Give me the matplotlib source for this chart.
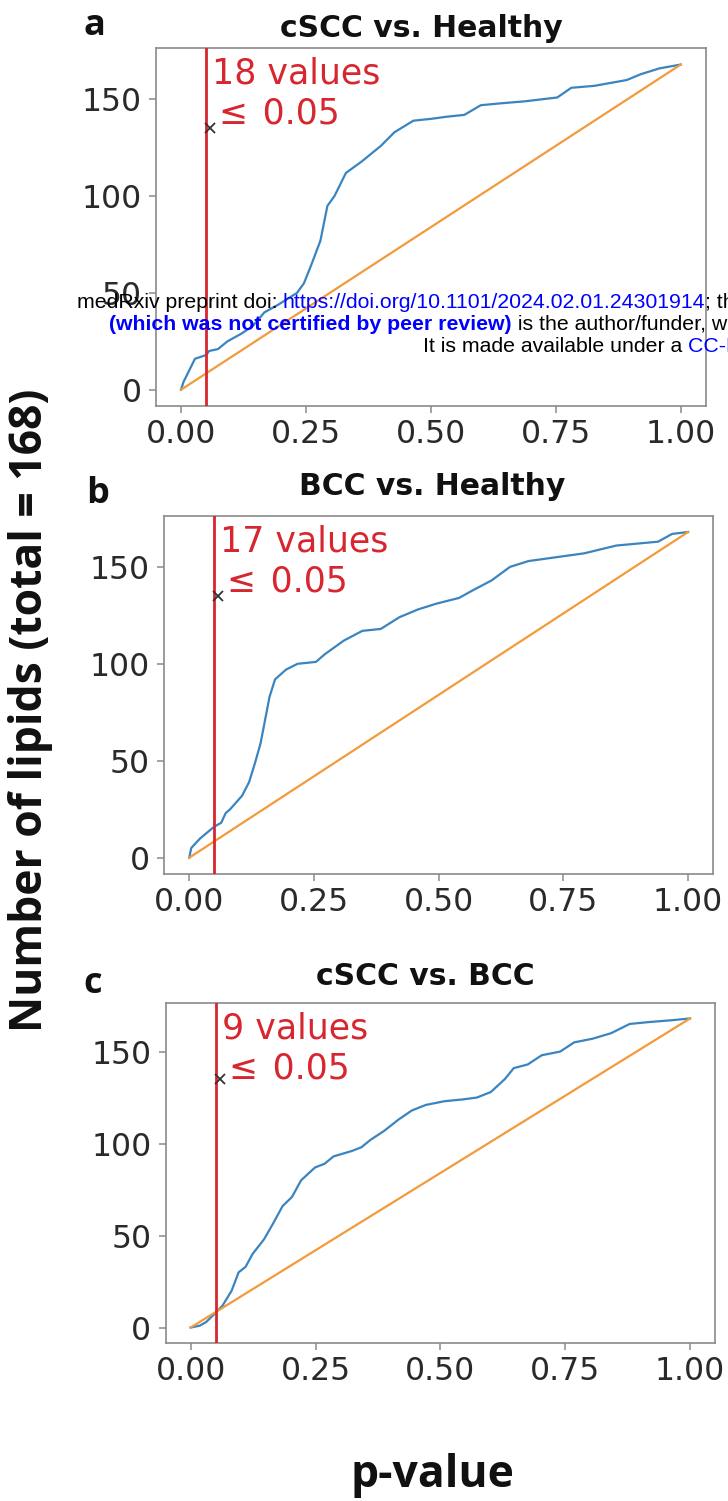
import matplotlib
matplotlib.use("Agg")
import matplotlib.pyplot as plt

plt.rcParams['font.family'] = ['DejaVu Sans']

# ---------------- data ----------------
titles = ["cSCC vs. Healthy", "BCC vs. Healthy", "cSCC vs. BCC"]
panel_letters = ["a", "b", "c"]
n_significant = [18, 17, 9]
threshold = 0.05
total_lipids = 168
x_ticks = [0.0, 0.25, 0.50, 0.75, 1.0]
x_tick_labels = ["0.00", "0.25", "0.50", "0.75", "1.00"]
y_ticks = [0, 50, 100, 150]

diag_x = [0.0, 1.0]
diag_y = [0, 168]

a_p = [0, .005, .028, .051, .056, .074, .093, .121, .144, .167, .195, .232, .246, .26,
       .279, .293, .307, .33, .362, .381, .40, .427, .465, .502, .53, .567, .60, .641,
       .688, .753, .781, .827, .892, .92, .957, 1.0]
a_n = [0, 4, 16, 18, 20, 21, 25, 29, 33, 40, 44, 50, 55, 64, 77, 95, 100, 112, 118, 122,
       126, 133, 139, 140, 141, 142, 147, 148, 149, 151, 156, 157, 160, 163, 166, 168]

b_p = [0, .004, .022, .036, .05, .064, .073, .082, .106, .12, .132, .143, .152, .161,
       .172, .194, .217, .254, .272, .31, .347, .384, .421, .458, .495, .541, .569, .606,
       .643, .68, .736, .792, .856, .94, .968, 1.0]
b_n = [0, 5, 10, 13, 16, 18, 23, 25, 32, 39, 49, 59, 71, 83, 92, 97, 100, 101, 105, 112,
       117, 118, 124, 128, 131, 134, 138, 143, 150, 153, 155, 157, 161, 163, 167, 168]

c_p = [0, .018, .031, .05, .064, .082, .096, .11, .124, .147, .166, .184, .203, .221,
       .249, .268, .286, .323, .342, .36, .388, .416, .443, .471, .508, .545, .573, .601,
       .629, .647, .675, .703, .74, .768, .805, .842, .879, .916, .962, 1.0]
c_n = [0, 1, 3, 8, 12, 20, 30, 33, 40, 48, 57, 66, 71, 80, 87, 89, 93, 96, 98, 102, 107,
       113, 118, 121, 123, 124, 125, 128, 135, 141, 143, 148, 150, 155, 157, 160, 165,
       166, 167, 168]

curves_p = [a_p, b_p, c_p]
curves_n = [a_n, b_n, c_n]

# ---------------- layout ----------------
W, H = 728, 1501
fig = plt.figure(figsize=(W / 100, H / 100), dpi=100)

def rect(l, t, r, b):
    return [l / W, 1 - b / H, (r - l) / W, (b - t) / H]

rects = [rect(156, 48.3, 705.7, 406), rect(164.3, 515.7, 713, 874), rect(165.7, 1003, 715, 1343)]
title_pads = [8.0, 14.9, 13.0]
title_x = [0.482, 0.488, 0.472]
letter_pos = [(94, 35), (97.5, 503), (93, 993)]

BLUE = '#3a84c0'
ORANGE = '#f39a3a'
RED = '#d7262f'
SPINE = '#8a8a8a'
TXT = '#2a2a2a'
BOLDFONT = ['Open Sans', 'DejaVu Sans']

axes = []
for i in range(3):
    ax = fig.add_axes(rects[i])
    axes.append(ax)
    ax.plot(curves_p[i], curves_n[i], color=BLUE, lw=1.6, zorder=2)
    ax.plot(diag_x, diag_y, color=ORANGE, lw=1.6, zorder=2)
    ax.axvline(threshold, color=RED, lw=2.0, zorder=3)
    ax.text(0.062, 172, f"{n_significant[i]} values\n\u2009\u2264 \u200a0.05", color=RED,
            fontsize=25, ha='left', va='top', linespacing=1.22, zorder=4)
    ax.plot([0.058], [135], marker='x', color='#333333', ms=7, mew=1.3, zorder=4)
    ax.set_xlim(-0.05, 1.05)
    ax.set_ylim(-0.05 * total_lipids, total_lipids * 1.05)
    ax.set_xticks(x_ticks)
    ax.set_xticklabels(x_tick_labels)
    ax.set_yticks(y_ticks)
    ax.tick_params(axis='both', labelsize=22.7, colors=SPINE, labelcolor=TXT, length=5, width=1.1)
    ax.tick_params(axis='x', pad=4.3)
    ax.tick_params(axis='y', pad=5.3)
    for s in ax.spines.values():
        s.set_color(SPINE)
        s.set_linewidth(1.2)
    ax.set_title(titles[i], fontsize=21.5, fontweight='bold', color='#111111',
                 pad=title_pads[i], x=title_x[i])
    fig.text(letter_pos[i][0] / W, 1 - letter_pos[i][1] / H, panel_letters[i], family=BOLDFONT,
             fontsize=26, fontweight='bold', ha='center', va='baseline', color='#111111')

fig.text(31 / W, 1 - 710 / H, "Number of lipids (total = 168)", rotation=90, family=BOLDFONT,
         fontsize=32, fontweight='bold', ha='center', va='center', color='#111111')
fig.text(432.5 / W, 1 - 1487 / H, "p-value", fontsize=32, fontweight='bold', family=BOLDFONT,
         ha='center', va='baseline', color='#111111')

# ---------------- preprint watermark ----------------
WM = dict(family='Liberation Sans', fontsize=15.3, va='baseline')
t1 = fig.text(76.6 / W, 1 - 308 / H, "medRxiv preprint doi: ", color='black', zorder=10, **WM)
axA = axes[0]
t2 = axA.annotate("https://doi.org/10.1101/2024.02.01.24301914", xy=(1, 0), xycoords=t1,
                  color='#0000ff', ha='left', annotation_clip=False, zorder=10,
                  **dict(WM, va='bottom'))
axA.annotate("; the copyright holder for this preprint", xy=(1, 0), xycoords=t2,
             color='black', ha='left', annotation_clip=False, zorder=10, **dict(WM, va='bottom'))
t4 = fig.text(109 / W, 1 - 330 / H, "(which was not certified by peer review)", color='#0000ff',
              fontweight='bold', zorder=10, **WM)
axA.annotate(" is the author/funder, who has granted medRxiv a license", xy=(1, 0), xycoords=t4,
             color='black', ha='left', annotation_clip=False, zorder=10, **dict(WM, va='bottom'))
t6 = fig.text(422.5 / W, 1 - 351.7 / H, "It is made available under a ", color='black', zorder=10, **WM)
axA.annotate("CC-BY-NC 4.0 International license", xy=(1, 0), xycoords=t6,
             color='#0000ff', ha='left', annotation_clip=False, zorder=10, **dict(WM, va='bottom'))

fig.savefig("out.png", dpi=100)
